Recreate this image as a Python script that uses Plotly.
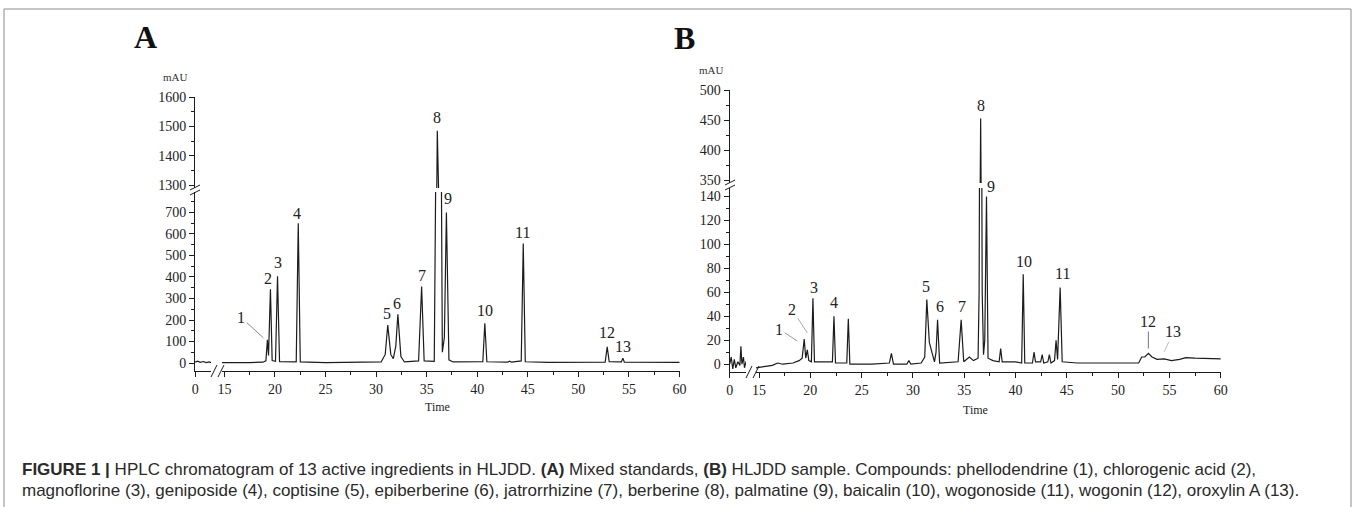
import plotly.graph_objects as go

W, H = 1355, 507

# ---------------- data ----------------
# Panel A: mixed standards, time (min) and absorbance (mAU)
a_time = [0.0, 0.25, 0.5, 0.8, 1.1, 1.4, 1.7, 3.0,
          14.7, 16.0, 17.5, 18.8, 19.1, 19.25, 19.36, 19.55, 19.72, 20.05, 20.25, 20.45,
          22.1, 22.3, 22.5, 25.0, 28.0, 30.5, 30.9, 31.15, 31.45, 31.7, 31.95, 32.15, 32.45, 32.8,
          34.2, 34.5, 34.75, 35.75, 35.9, 36.05, 36.2, 36.45, 36.55, 36.75, 36.95, 37.2, 37.6,
          40.55, 40.75, 40.95, 43.0, 43.2, 43.4, 44.35, 44.55, 44.75, 47.0,
          52.65, 52.85, 53.05, 54.25, 54.4, 54.55, 60.0]
a_mau = [4, 9, 3, 7, 2, 5, 0, 0,
         0, 1, 2, 4, 10, 108, 35, 343, 12, 8, 403, 6,
         5, 650, 5, 2, 2, 5, 40, 176, 40, 20, 80, 227, 30, 5,
         10, 356, 10, 8, 900, 1485, 1250, 900, 50, 120, 700, 15, 5,
         6, 185, 6, 4, 9, 4, 10, 555, 6, 3,
         4, 75, 6, 5, 22, 4, 3]

# Panel B: HLJDD sample
b_time = [0.0, 0.15, 0.3, 0.45, 0.6, 0.8, 1.0, 1.1, 1.2, 1.35, 1.45, 1.6, 2.5,
          14.7, 15.5, 16.3, 16.8, 17.3, 18.3, 18.9, 19.2, 19.4, 19.55, 19.7, 19.85, 20.1, 20.25, 20.4,
          22.15, 22.3, 22.45, 23.55, 23.7, 23.85, 26.0, 27.7, 27.9, 28.1, 29.4, 29.6, 29.8,
          30.8, 31.15, 31.35, 31.6, 31.85, 32.1, 32.25, 32.4, 32.6, 34.4, 34.7, 34.95, 35.5, 35.9,
          36.35, 36.45, 36.6, 36.75, 36.88, 37.0, 37.17, 37.32, 37.8, 38.4, 38.55, 38.7, 40.0, 40.6, 40.75, 40.9,
          41.65, 41.8, 41.95, 42.45, 42.6, 42.75, 43.15, 43.3, 43.45, 43.8, 43.95, 44.1, 44.35, 44.55,
          46.0, 49.0, 52.0, 52.3, 52.6, 52.95, 53.3, 53.8, 54.5, 55.2, 56.0, 56.6, 57.5, 60.0]
b_mau = [0, 6, -4, 4, -3, 2, -1, 15, 0, 6, -3, 2, -2,
         -3, -2, -1, 1, 0, 1, 3, 5, 21, 5, 12, 3, 2, 55, 2,
         2, 40, 1, 1, 38, 0, 0, 1, 9, 0, 0, 3, 0,
         1, 6, 54, 18, 10, 2, 10, 37, 1, 2, 37, 2, 6, 3,
         5, 60, 453, 60, 8, 20, 140, 5, 3, 2, 13, 2, 2, 1, 75, 1,
         1, 10, 2, 2, 8, 1, 2, 8, 1, 3, 20, 4, 64, 2,
         1, 1, 1, 6, 6, 9, 6, 4, 4.5, 3, 4, 5.5, 5, 4.5]

# peak labels (compound numbers) with apex time / height
peak_labels = ["1", "2", "3", "4", "5", "6", "7", "8", "9", "10", "11", "12", "13"]
a_peak_time = [19.25, 19.55, 20.25, 22.3, 31.15, 32.15, 34.5, 36.05, 36.95, 40.75, 44.55, 52.85, 54.4]
a_peak_mau = [108, 343, 403, 650, 176, 227, 356, 1485, 700, 185, 555, 75, 22]
b_peak_time = [19.4, 19.7, 20.25, 22.3, 31.35, 32.4, 34.7, 36.6, 37.17, 40.75, 44.35, 52.95, 54.5]
b_peak_mau = [21, 12, 55, 40, 54, 37, 37, 453, 140, 75, 64, 9, 4.5]

a_low_ticks = [0, 100, 200, 300, 400, 500, 600, 700]
a_up_ticks = [1300, 1400, 1500, 1600]
b_low_ticks = [0, 20, 40, 60, 80, 100, 120, 140]
b_up_ticks = [350, 400, 450, 500]
x_ticks_right = [15, 20, 25, 30, 35, 40, 45, 50, 55, 60]
x_ticks_left = [0]

# ---------------- helpers ----------------
def xd(p0, p1):
    return [p0 / W, p1 / W]

def yd(top, bottom):
    return [1 - bottom / H, 1 - top / H]

def px(x):
    return x / W

def py(y):
    return 1 - y / H

INK = "#1c1c1c"
SERIF = "Liberation Serif, Times New Roman, serif"

fig = go.Figure()

# each panel: same chromatogram drawn in 4 sub-areas (broken x & y axes)
panels = [
    (a_time, a_mau, [("x", "y"), ("x2", "y"), ("x", "y2"), ("x2", "y2")]),
    (b_time, b_mau, [("x3", "y3"), ("x4", "y3"), ("x3", "y4"), ("x4", "y4")]),
]
for t, v, combos in panels:
    for xa, ya in combos:
        fig.add_trace(go.Scatter(x=t, y=v, mode="lines", xaxis=xa, yaxis=ya,
                                 line=dict(color=INK, width=1.2),
                                 hoverinfo="skip", showlegend=False))

base_axis = dict(showgrid=False, zeroline=False, showline=True, linecolor=INK, linewidth=1,
                 ticks="outside", ticklen=5, tickwidth=1, tickcolor=INK,
                 tickfont=dict(family=SERIF, size=14, color="#222"), fixedrange=True)

def minor(d):
    return dict(ticks="outside", ticklen=3, tickwidth=1, tickcolor=INK, dtick=d, showgrid=False)

layout_axes = dict(
    # Panel A
    xaxis=dict(base_axis, domain=xd(195, 211), range=[-0.02, 1.58], anchor="y",
               tickmode="array", tickvals=x_ticks_left),
    xaxis2=dict(base_axis, domain=xd(222, 680), range=[14.76, 60.05], anchor="y",
                tickmode="array", tickvals=x_ticks_right, minor=minor(2.5)),
    yaxis=dict(base_axis, domain=yd(192, 371), range=[-37, 795], anchor="x",
               tickmode="array", tickvals=a_low_ticks, minor=minor(50)),
    yaxis2=dict(base_axis, domain=yd(97, 188), range=[1290, 1600.5], anchor="x",
                tickmode="array", tickvals=a_up_ticks, minor=minor(50)),
    # Panel B
    xaxis3=dict(base_axis, domain=xd(729.5, 746), range=[-0.02, 1.6], anchor="y3",
                tickmode="array", tickvals=x_ticks_left),
    xaxis4=dict(base_axis, domain=xd(756, 1221), range=[14.7, 60.03], anchor="y3",
                tickmode="array", tickvals=x_ticks_right, minor=minor(2.5)),
    yaxis3=dict(base_axis, domain=yd(188, 372), range=[-6.5, 147], anchor="x3",
                tickmode="array", tickvals=b_low_ticks, minor=minor(10)),
    yaxis4=dict(base_axis, domain=yd(90, 183), range=[345, 500.5], anchor="x3",
                tickmode="array", tickvals=b_up_ticks, minor=minor(25)),
)

annotations = []
lab_font = dict(family=SERIF, size=16, color="#222")

# label offsets (pixels) : (xshift, yshift, ax, ay, arrowcolor) ; ax None = no leader
a_lab_style = [(-4, 2, -22, -20, "#8a8a8a"), (-2, 11, None, None, None), (0, 14, None, None, None),
               (-1, 10, None, None, None), (-1, 12, None, None, None), (-1, 11, None, None, None),
               (0, 11, None, None, None), (0, 13, None, None, None), (2, 14, None, None, None),
               (0, 13, None, None, None), (-1, 11, None, None, None), (0, 14, None, None, None),
               (0, 11.5, None, None, None)]
b_lab_style = [(-7, -2, -18, -12, "#9a9a9a"), (0, 17, -15, -23, "#aaaaaa"), (1, 11, None, None, None),
               (0, 14, None, None, None), (-1, 12.5, None, None, None), (2, 13, None, None, None),
               (1, 13, None, None, None), (0, 13, None, None, None), (4, 10, None, None, None),
               (0.5, 13, None, None, None), (2.5, 13.5, None, None, None), (0, 5, 0, -27, "#777777"),
               (0, 7, 9, -20, "#bbbbbb")]

for times, vals, styles, xr, ylow, yup, split in [
        (a_peak_time, a_peak_mau, a_lab_style, "x2", "y", "y2", 795),
        (b_peak_time, b_peak_mau, b_lab_style, "x4", "y3", "y4", 147)]:
    for lab, t, v, st in zip(peak_labels, times, vals, styles):
        xs, ys, ax, ay, ac = st
        ann = dict(text=lab, x=t, y=v, xref=xr, yref=(yup if v > split else ylow),
                   xshift=xs, yshift=ys, font=lab_font, xanchor="center", yanchor="middle")
        if ax is None:
            ann["showarrow"] = False
        else:
            ann.update(showarrow=True, ax=ax, ay=ay, arrowhead=0, arrowwidth=1,
                       arrowcolor=ac, standoff=0)
        annotations.append(ann)

def paper_text(text, x, y, font, xanchor="center"):
    annotations.append(dict(text=text, x=px(x), y=py(y), xref="paper", yref="paper",
                            xanchor=xanchor, yanchor="middle", showarrow=False, font=font))

# panel letters, units, axis titles
for txt, x, y in [("A", 145, 37), ("B", 684, 38)]:
    paper_text("<b>%s</b>" % txt, x, y, dict(family=SERIF, size=32, color="#111"))
for x, y in [(175, 77), (711, 70)]:
    paper_text("mAU", x, y, dict(family=SERIF, size=11, color="#333"))
for x, y in [(437, 407), (975, 410)]:
    paper_text("Time", x, y, dict(family=SERIF, size=12, color="#222"))

cap1 = ("<b>FIGURE 1 |</b> HPLC chromatogram of 13 active ingredients in HLJDD. <b>(A)</b> Mixed standards, "
        "<b>(B)</b> HLJDD sample. Compounds: phellodendrine (1), chlorogenic acid (2),")
cap2 = ("magnoflorine (3), geniposide (4), coptisine (5), epiberberine (6), jatrorrhizine (7), berberine (8), "
        "palmatine (9), baicalin (10), wogonoside (11), wogonin (12), oroxylin A (13).")
CAPFONT = dict(family="Liberation Sans, Arial, sans-serif", size=17, color="#2a2a2a")
paper_text(cap1, 20, 469, CAPFONT, xanchor="left")
paper_text(cap2, 20, 490, CAPFONT, xanchor="left")

# decorative axis-break marks and figure frame
shapes = []
def seg(x0, y0, x1, y1, color=INK, w=1):
    shapes.append(dict(type="line", xref="paper", yref="paper", x0=px(x0), y0=py(y0),
                       x1=px(x1), y1=py(y1), line=dict(color=color, width=w)))

# x-axis breaks
seg(211, 377, 217, 365); seg(218, 377, 224, 365)
seg(746, 378, 752, 366); seg(753, 378, 759, 366)
# y-axis breaks
seg(190, 190, 200, 185); seg(190, 195, 200, 190)
seg(725, 185, 735, 180); seg(725, 190, 735, 185)
# frame
seg(4, 9, 1351, 9, "#8c8c8c"); seg(4, 9, 4, 510, "#8c8c8c"); seg(1351, 9, 1351, 510, "#8c8c8c")

fig.update_layout(width=W, height=H, margin=dict(l=0, r=0, t=0, b=0, autoexpand=False),
                  paper_bgcolor="white", plot_bgcolor="white",
                  annotations=annotations, shapes=shapes, showlegend=False, **layout_axes)

fig.write_html("out.html", config={"displayModeBar": False},
               post_script="document.body.style.margin='0';document.body.style.overflow='hidden';")
